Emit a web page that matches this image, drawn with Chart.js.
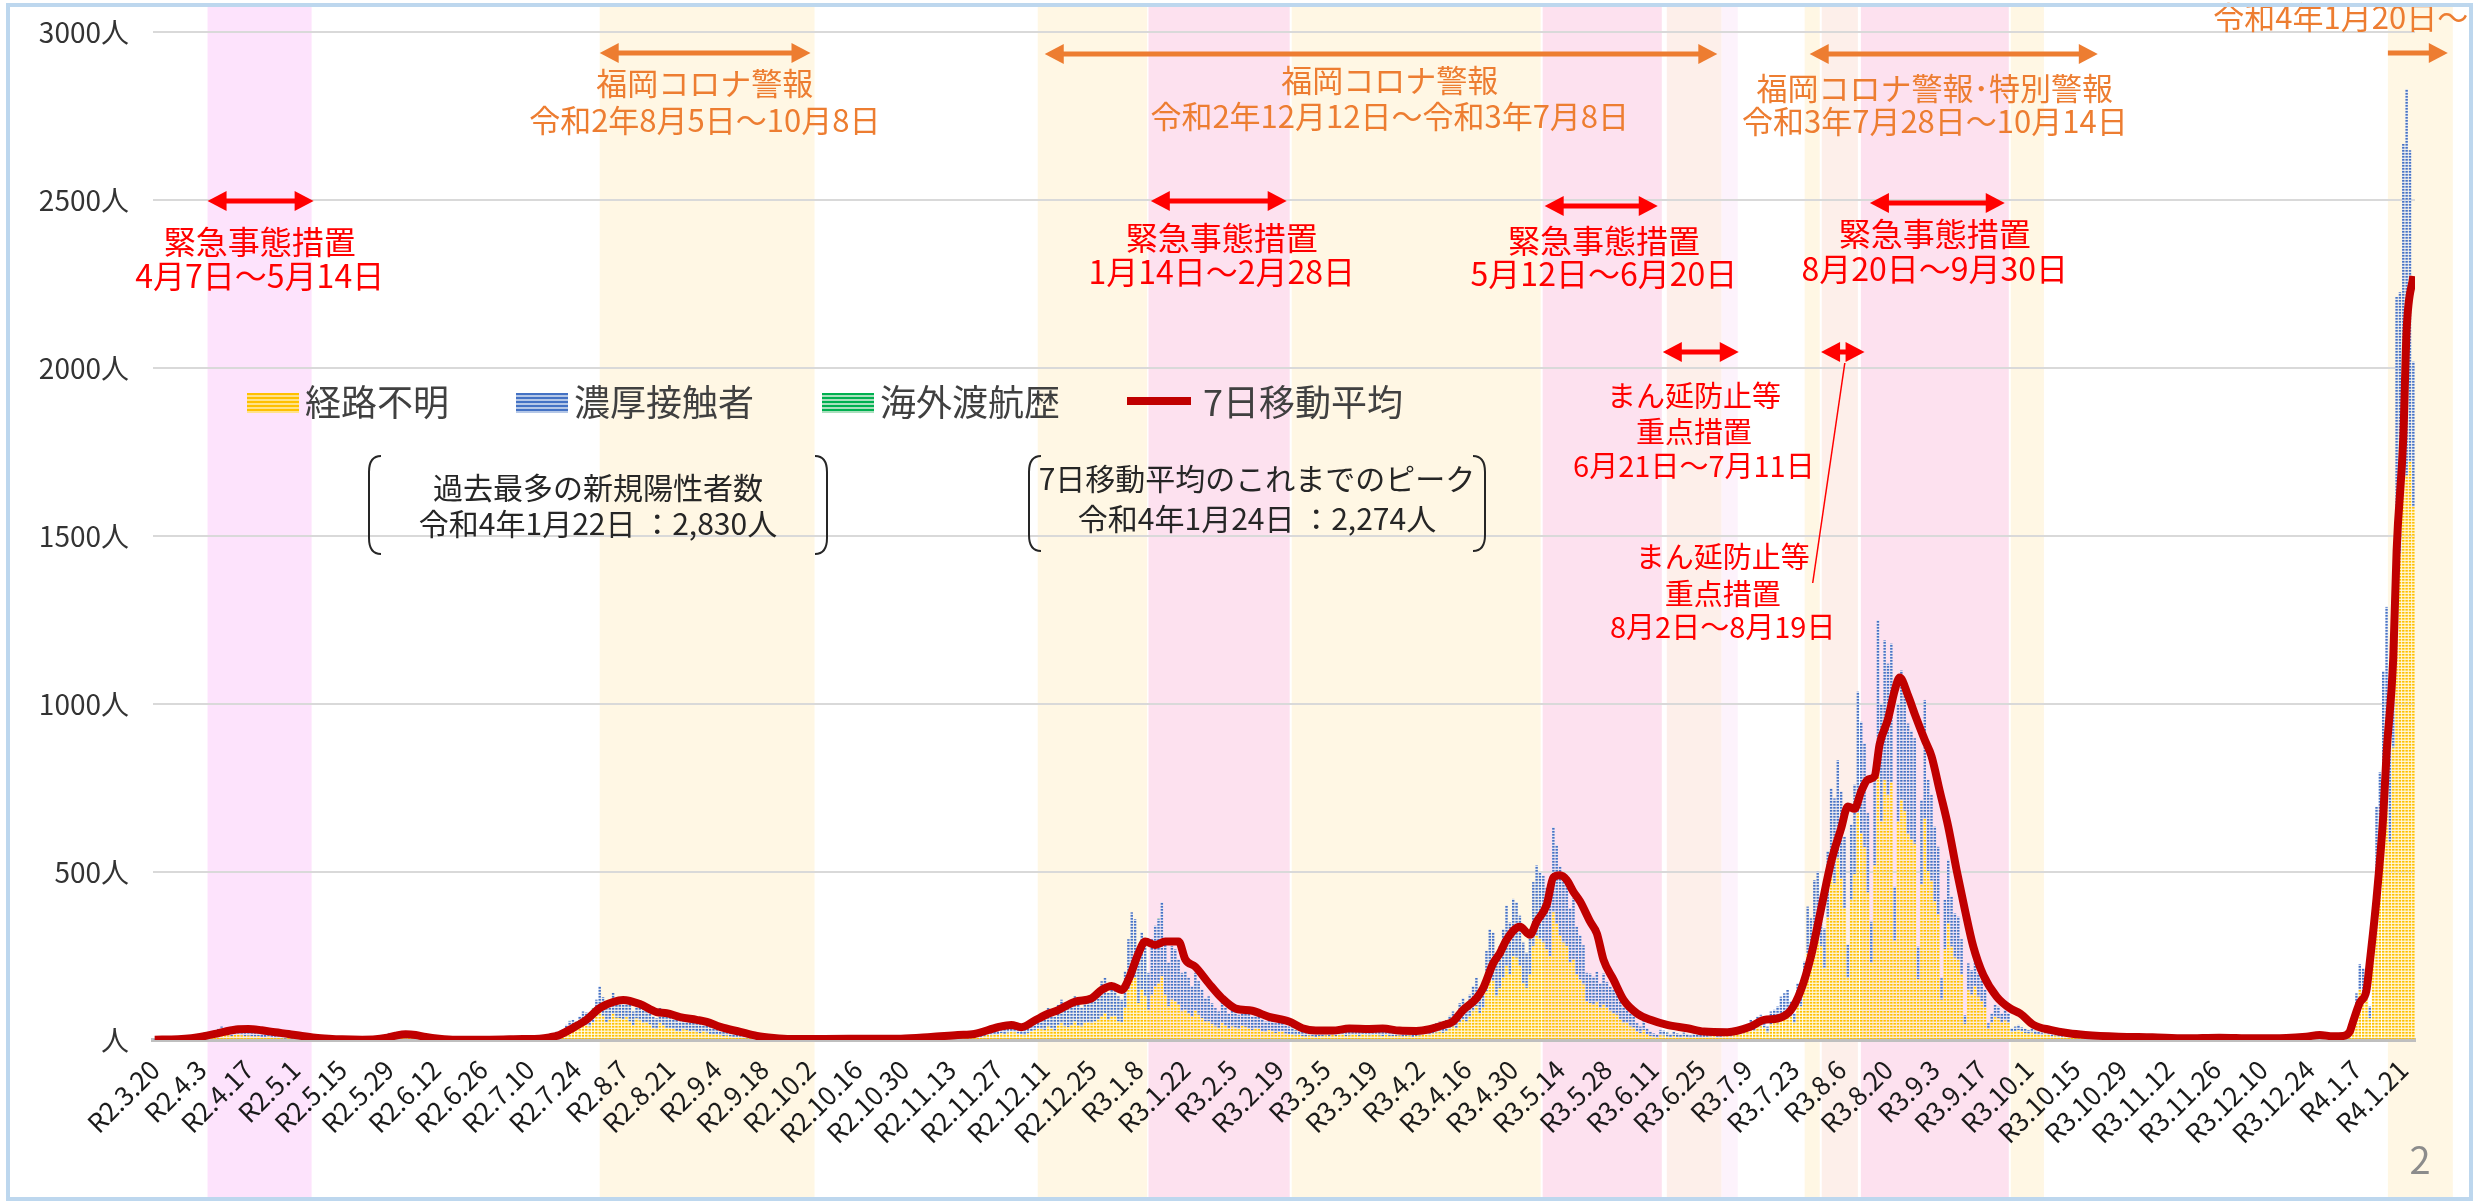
<!DOCTYPE html>
<html lang="ja">
<head>
<meta charset="UTF-8">
<title>新規陽性者数の推移</title>
<style>
  html, body { margin: 0; padding: 0; background: #fff; }
  #chartBox { width: 2483px; height: 1203px; }
</style>
</head>
<body>
<div id="chartBox"><canvas id="myChart" width="2483" height="1203"></canvas></div>
<script src="https://cdn.jsdelivr.net/npm/chart.js@4.4.1/dist/chart.umd.min.js"></script>
<script>
// day 0 = R2.3.20, one value per day, rows of 14 days
const tickLabels = ['R2.3.20','R2.4.3','R2.4.17','R2.5.1','R2.5.15','R2.5.29','R2.6.12','R2.6.26','R2.7.10','R2.7.24',
  'R2.8.7','R2.8.21','R2.9.4','R2.9.18','R2.10.2','R2.10.16','R2.10.30','R2.11.13','R2.11.27','R2.12.11','R2.12.25',
  'R3.1.8','R3.1.22','R3.2.5','R3.2.19','R3.3.5','R3.3.19','R3.4.2','R3.4.16','R3.4.30','R3.5.14','R3.5.28','R3.6.11',
  'R3.6.25','R3.7.9','R3.7.23','R3.8.6','R3.8.20','R3.9.3','R3.9.17','R3.10.1','R3.10.15','R3.10.29','R3.11.12',
  'R3.11.26','R3.12.10','R3.12.24','R4.1.7','R4.1.21'];

// 経路不明
const unknownCases = [
  0,1,0,0,1,1,2,1,2,3,4,5,6,7,
  9,10,12,8,13,16,19,17,14,12,15,18,14,12,
  13,11,10,12,9,8,11,7,6,8,5,4,6,4,
  5,4,3,4,2,2,3,1,1,2,0,1,0,0,
  0,0,0,0,0,0,0,0,0,1,2,3,5,6,
  8,6,7,9,7,5,7,5,3,2,2,1,1,1,
  0,0,1,1,0,0,0,0,0,0,1,0,0,0,
  1,1,1,0,1,2,1,1,2,1,2,1,1,2,
  2,1,3,2,3,5,7,10,13,9,16,23,28,31,
  30,40,48,45,40,52,70,90,72,52,60,78,66,65,
  62,68,55,44,64,58,50,52,46,36,32,50,44,36,
  36,33,27,25,32,30,26,28,23,21,27,22,18,17,
  16,14,12,13,10,9,7,8,6,5,6,4,3,4,
  3,2,2,2,2,1,1,1,2,1,1,1,1,2,
  1,2,2,1,3,2,2,1,3,2,2,3,2,2,
  3,2,1,3,2,3,2,2,4,3,1,2,3,3,
  4,3,2,4,5,4,6,5,4,6,6,5,7,8,
  9,7,6,10,8,7,11,9,12,8,12,15,14,17,
  17,20,18,22,25,23,19,17,14,21,26,30,34,32,
  30,40,35,28,45,50,40,38,45,55,42,40,50,52,
  50,55,62,70,80,60,70,72,55,52,95,150,200,185,
  110,150,130,90,135,160,170,190,135,100,120,115,105,85,
  90,80,70,88,75,65,55,55,48,40,36,50,42,34,
  40,37,32,42,39,34,30,36,33,26,23,30,27,21,
  24,26,19,17,16,13,15,12,10,13,11,9,12,11,
  13,11,15,12,14,16,11,13,16,15,12,17,14,13,
  15,16,13,11,15,12,11,12,13,10,12,13,9,12,
  13,15,17,14,19,22,25,21,27,33,40,36,52,60,
  55,70,85,100,80,95,145,180,175,130,155,185,220,195,
  250,245,220,170,155,195,280,310,300,290,270,250,380,345,
  310,290,280,230,240,195,180,165,115,110,105,112,95,105,
  95,85,80,75,62,50,50,40,37,25,20,30,17,12,
  10,7,14,13,10,8,12,9,7,10,8,6,9,8,
  7,9,8,10,12,7,9,11,13,10,14,17,19,22,
  25,33,28,38,41,37,22,47,50,56,75,82,90,70,
  50,108,100,150,258,235,310,325,280,215,365,487,467,540,
  480,393,184,416,494,675,615,574,439,229,520,812,650,773,
  728,767,296,650,715,682,612,598,584,181,464,658,503,474,
  413,374,120,271,348,278,245,239,195,48,148,135,161,129,
  116,97,33,51,68,64,51,58,51,23,26,29,25,21,
  19,22,18,16,14,19,15,11,13,10,9,12,8,9,
  8,7,6,7,6,5,7,6,4,6,5,4,6,4,
  5,4,3,4,2,4,3,2,4,2,3,4,2,3,
  2,4,2,3,1,2,2,3,4,1,2,2,3,2,
  3,4,2,4,2,3,2,4,3,2,2,1,3,2,
  1,2,2,3,4,2,2,3,1,2,4,5,6,7,
  11,9,12,10,8,7,5,6,4,5,8,13,25,50,
  90,150,140,140,65,260,450,520,715,840,590,870,1440,1450,
  1730,1680,1720,1586];

// 濃厚接触者
const contactCases = [
  1,1,1,0,2,1,2,2,3,3,4,5,6,7,
  11,12,14,9,15,18,21,19,17,13,17,20,16,15,
  16,14,12,15,12,10,13,10,8,11,7,6,7,5,
  6,4,3,5,3,2,3,2,1,2,1,1,1,0,
  0,1,0,0,0,0,1,0,0,1,2,5,7,8,
  13,10,12,13,11,9,10,7,5,4,3,2,1,1,
  1,0,0,1,0,1,0,0,1,0,1,1,0,1,
  0,1,2,1,1,2,2,1,3,2,2,1,2,3,
  2,2,3,3,3,5,7,10,13,9,16,22,28,29,
  25,30,37,37,32,40,50,70,56,43,50,62,54,53,
  53,57,50,41,56,52,45,48,44,34,33,45,41,34,
  42,39,33,30,38,35,32,34,29,27,33,28,24,21,
  24,21,18,19,16,13,11,12,9,7,8,6,5,5,
  4,4,3,2,3,2,1,2,2,1,2,1,2,2,
  2,3,2,1,3,2,3,2,3,2,3,4,2,3,
  3,2,2,4,3,3,2,3,4,3,2,3,4,3,
  4,4,3,5,5,4,6,6,5,8,7,5,8,8,
  9,7,6,10,9,8,11,10,12,8,13,15,14,17,
  18,22,20,23,27,25,21,19,16,23,29,32,36,34,
  45,55,53,42,60,70,58,54,65,75,63,56,68,73,
  70,80,88,105,105,80,95,98,75,68,110,150,180,175,
  140,170,160,110,165,180,190,220,165,130,160,155,135,115,
  115,105,90,112,100,85,70,75,62,55,49,65,56,44,
  55,51,43,58,53,46,40,49,45,36,32,42,38,29,
  34,36,26,23,22,17,20,16,14,17,15,13,16,14,
  17,14,20,16,18,22,15,17,20,19,16,23,19,17,
  20,22,17,15,19,17,14,16,18,14,15,17,13,17,
  17,19,21,19,23,28,30,27,33,39,45,42,58,65,
  45,65,75,85,70,80,120,150,145,110,125,145,180,155,
  170,165,150,120,105,135,190,210,200,200,185,170,254,235,
  206,206,211,162,182,142,132,117,85,88,83,91,74,93,
  78,74,70,69,58,49,49,39,37,25,20,30,18,13,
  10,8,16,15,12,10,13,11,9,12,10,8,11,9,
  8,11,10,12,13,9,11,13,15,12,16,18,21,23,
  20,27,24,32,34,31,18,38,40,44,54,57,59,45,
  29,61,59,83,139,127,166,176,152,117,195,262,252,293,
  259,212,99,224,266,362,332,309,236,123,280,438,350,417,
  392,413,160,350,385,368,330,322,314,97,250,354,271,255,
  222,201,64,146,188,149,132,128,105,26,80,73,87,69,
  63,52,17,28,36,35,28,31,28,12,14,16,13,12,
  11,13,10,9,8,11,9,7,7,6,6,7,4,5,
  5,4,3,5,4,3,4,3,3,4,3,2,3,3,
  3,2,2,3,2,2,2,1,2,2,2,3,1,2,
  2,2,1,2,1,2,1,2,2,1,2,1,2,2,
  2,3,2,2,1,2,2,2,2,1,2,1,2,1,
  1,2,1,2,2,2,1,2,1,2,2,3,4,5,
  7,6,8,6,6,5,3,4,2,4,5,9,16,29,
  49,76,74,74,35,142,244,277,383,449,310,472,771,776,
  937,1150,928,433];

// 海外渡航歴 (only the few days that have any)
const overseasDays = [2, 6, 9, 11, 15, 19, 124, 131, 236, 300, 452, 500];
const overseasCases = [1, 2, 1, 3, 1, 1, 1, 2, 1, 1, 1, 2];

// 7日移動平均
const avgDays = [
  0,7,11,14,18,21,25,28,32,36,
  40,44,48,52,56,62,66,69,72,75,
  78,81,85,90,100,110,115,118,121,125,
  129,133,137,140,145,150,153,157,162,165,
  169,175,180,185,190,200,215,223,232,240,
  245,252,256,259,263,267,270,275,280,283,
  286,289,291,294,296,299,302,306,308,311,
  315,319,323,328,333,339,343,347,352,357,
  363,367,372,377,381,385,388,391,395,397,
  400,402,404,408,411,413,416,418,420,422,
  424,426,429,431,433,436,439,443,447,452,
  458,463,470,477,481,485,489,492,495,498,
  501,504,506,508,510,512,514,515.5,518,520,
  521.5,524,526,529,531,533.5,536,538.5,541,543.5,
  546.5,550.5,554.5,557.5,561.5,566.5,572,577,587,597,
  607,617,627,637,643,647,651,654,656,657,
  659,661,662,664,666,667,669,670,672,673,
  675];
const avgValues = [
  1,2,5,10,18,25,32,33,29,23,
  18,12,7,4,2,1,2,6,13,17,
  15,9,4,1,1,3,4,8,15,36,
  60,95,113,119,107,83,80,68,60,54,
  39,24,12,6,3,3,4,4,9,15,
  18,38,45,38,58,78,89,114,124,149,
  161,149,179,258,293,283,293,293,240,218,
  169,124,94,87,69,55,35,28,28,34,
  33,34,28,27,32,44,55,89,124,154,
  228,258,298,337,313,352,402,484,490,476,
  441,412,352,317,238,179,119,79,60,45,
  35,25,23,40,60,64,89,149,250,390,
  530,630,695,688,740,775,785,880,955,1040,
  1079,1025,970,893,845,740,635,506,387,278,
  193,129,94,79,45,30,20,15,10,8,
  5,7,5,6,10,15,11,12,25,55,
  111,148,233,421,665,853,1135,1455,1793,2113,
  2274];

// shaded periods, in days
const periodBands = [
  {from: 15.8, to: 46.9, color: '#fde3fc'},
  {from: 133.0, to: 197.2, color: '#fff7e4'},
  {from: 263.9, to: 296.6, color: '#fff7e4'},
  {from: 297.0, to: 339.2, color: '#fde1ef'},
  {from: 339.8, to: 414.2, color: '#fff7e4'},
  {from: 414.8, to: 450.4, color: '#fde1ef'},
  {from: 451.9, to: 468.3, color: '#fdefea'},
  {from: 468.3, to: 473.1, color: '#fdf3fc'},
  {from: 493.1, to: 497.6, color: '#fff7e4'},
  {from: 498.2, to: 509.0, color: '#fdefea'},
  {from: 509.9, to: 554.1, color: '#fde1ef'},
  {from: 554.7, to: 564.6, color: '#fff7e4'},
  {from: 667.4, to: 686.8, color: '#fff7e4'}
];

const RED = '#ff0000', ORANGE = '#ed7d31';
const FONT = '"Noto Sans CJK JP", "Noto Sans", sans-serif';

const arrows = [
  {from: 15.8, to: 47.5, y: 201, color: RED},
  {from: 297.7, to: 338.3, y: 201, color: RED},
  {from: 415.4, to: 449.2, y: 206, color: RED},
  {from: 512.6, to: 552.9, y: 203, color: RED},
  {from: 450.7, to: 473.4, y: 352, color: RED},
  {from: 498.0, to: 511.0, y: 352, color: RED},
  {from: 133.0, to: 196.0, y: 53, color: ORANGE},
  {from: 266.0, to: 467.0, y: 54, color: ORANGE},
  {from: 494.6, to: 580.7, y: 54, color: ORANGE},
  {from: 667.4, to: 685.3, y: 53, color: ORANGE, oneWay: true}
];

const notes = [
  {day: 31.4, lines: ['緊急事態措置', '4月7日～5月14日'], ys: [242, 276], color: RED, size: 32},
  {day: 318.9, lines: ['緊急事態措置', '1月14日～2月28日'], ys: [238, 272], color: RED, size: 32},
  {day: 433.1, lines: ['緊急事態措置', '5月12日～6月20日'], ys: [241, 274], color: RED, size: 32},
  {day: 532.0, lines: ['緊急事態措置', '8月20日～9月30日'], ys: [234, 269], color: RED, size: 32},
  {day: 460.0, lines: ['まん延防止等', '重点措置', '6月21日～7月11日'], ys: [396, 432, 466], color: RED, size: 29},
  {day: 468.6, lines: ['まん延防止等', '重点措置', '8月2日～8月19日'], ys: [557, 594, 627], color: RED, size: 29},
  {day: 164.4, lines: ['福岡コロナ警報', '令和2年8月5日～10月8日'], ys: [83, 120], color: ORANGE, size: 31},
  {day: 369.1, lines: ['福岡コロナ警報', '令和2年12月12日～令和3年7月8日'], ys: [80, 116], color: ORANGE, size: 31},
  {day: 532.0, lines: ['福岡コロナ警報･特別警報', '令和3年7月28日～10月14日'], ys: [88, 121], color: ORANGE, size: 31},
  {day: 653.3, lines: ['令和4年1月20日～'], ys: [17], color: ORANGE, size: 31}
];

const infoBoxes = [
  {left: 369, right: 827, top: 456, bottom: 554, lines: ['過去最多の新規陽性者数', '令和4年1月22日 ：2,830人'], ys: [488, 524]},
  {left: 1029, right: 1485, top: 456, bottom: 551, lines: ['7日移動平均のこれまでのピーク', '令和4年1月24日 ：2,274人'], ys: [479, 519]}
];

function stripes(c1, c2, c3) {
  const t = document.createElement('canvas');
  t.width = 4; t.height = 3;
  const g = t.getContext('2d');
  g.fillStyle = c1; g.fillRect(0, 0, 4, 1);
  g.fillStyle = c2; g.fillRect(0, 1, 4, 1);
  g.fillStyle = c3; g.fillRect(0, 2, 4, 1);
  return g.createPattern(t, 'repeat');
}

const overseasDaily = unknownCases.map(() => 0);
overseasDays.forEach((d, i) => { overseasDaily[d] = overseasCases[i]; });

function byDay(arr) { return arr.map((v, d) => ({x: d, y: v})); }

function drawArrow(ctx, x1, x2, y, color, oneWay) {
  const head = 19, half = 10;
  ctx.strokeStyle = color; ctx.fillStyle = color; ctx.lineWidth = 5;
  ctx.beginPath();
  ctx.moveTo(oneWay ? x1 : x1 + head - 2, y);
  ctx.lineTo(x2 - head + 2, y);
  ctx.stroke();
  ctx.beginPath();
  ctx.moveTo(x2, y); ctx.lineTo(x2 - head, y - half); ctx.lineTo(x2 - head, y + half); ctx.closePath();
  ctx.fill();
  if (!oneWay) {
    ctx.beginPath();
    ctx.moveTo(x1, y); ctx.lineTo(x1 + head, y - half); ctx.lineTo(x1 + head, y + half); ctx.closePath();
    ctx.fill();
  }
}

function drawBracket(ctx, x, top, bottom, dir) {
  const h = 12 * dir;
  ctx.beginPath();
  ctx.moveTo(x + h, top);
  ctx.quadraticCurveTo(x, top, x, top + 16);
  ctx.lineTo(x, bottom - 16);
  ctx.quadraticCurveTo(x, bottom, x + h, bottom);
  ctx.stroke();
}

const bandPlugin = {
  id: 'bands',
  beforeDraw(chart) {
    const {ctx, scales: {x}} = chart;
    ctx.save();
    periodBands.forEach(b => {
      const x1 = x.getPixelForValue(b.from), x2 = x.getPixelForValue(b.to);
      ctx.fillStyle = b.color;
      ctx.fillRect(x1, 7, x2 - x1, 1191);
    });
    ctx.restore();
  }
};

const notesPlugin = {
  id: 'notes',
  afterDraw(chart) {
    const {ctx, scales: {x}} = chart;
    ctx.save();
    arrows.forEach(a => drawArrow(ctx, x.getPixelForValue(a.from), x.getPixelForValue(a.to), a.y, a.color, a.oneWay));

    // leader line for the second まん延防止 period
    ctx.strokeStyle = RED; ctx.lineWidth = 1.5;
    ctx.beginPath();
    ctx.moveTo(x.getPixelForValue(505.1), 363);
    ctx.lineTo(x.getPixelForValue(495.5), 583);
    ctx.stroke();

    ctx.textAlign = 'center'; ctx.textBaseline = 'middle';
    notes.forEach(n => {
      ctx.fillStyle = n.color;
      ctx.font = n.size + 'px ' + FONT;
      n.lines.forEach((t, i) => ctx.fillText(t, x.getPixelForValue(n.day), n.ys[i]));
    });

    // info boxes
    ctx.strokeStyle = '#262626'; ctx.lineWidth = 2;
    ctx.fillStyle = '#262626'; ctx.font = '30px ' + FONT;
    infoBoxes.forEach(b => {
      drawBracket(ctx, b.left, b.top, b.bottom, 1);
      drawBracket(ctx, b.right, b.top, b.bottom, -1);
      b.lines.forEach((t, i) => ctx.fillText(t, (b.left + b.right) / 2, b.ys[i]));
    });

    // legend
    const ds = chart.data.datasets;
    const swatch = [
      {x: 247, c: ['#ffc000', '#ffe28a']},
      {x: 516, c: ['#4472c4', '#b4c7e7']},
      {x: 822, c: ['#00b050', '#a9e0bd']}
    ];
    ctx.textAlign = 'left';
    ctx.font = '36px ' + FONT;
    swatch.forEach((s, i) => {
      for (let k = 0; k < 20; k += 4) {
        ctx.fillStyle = s.c[0]; ctx.fillRect(s.x, 393 + k, 52, 2);
        ctx.fillStyle = s.c[1]; ctx.fillRect(s.x, 395 + k, 52, 2);
      }
      ctx.fillStyle = '#404040';
      ctx.fillText(ds[i].label, s.x + 58, 402);
    });
    ctx.strokeStyle = '#c00000'; ctx.lineWidth = 8;
    ctx.beginPath(); ctx.moveTo(1127, 401); ctx.lineTo(1191, 401); ctx.stroke();
    ctx.fillStyle = '#404040';
    ctx.fillText(ds[3].label, 1203, 402);

    // page number and frame
    ctx.textAlign = 'center';
    ctx.fillStyle = '#8c8c8c'; ctx.font = '38px ' + FONT;
    ctx.fillText('2', 2420, 1160);
    ctx.strokeStyle = '#bdd7ee'; ctx.lineWidth = 4;
    ctx.strokeRect(8, 5, 2463, 1194);
    ctx.restore();
  }
};

const carte = document.getElementById('myChart');
const graph = new Chart(carte, {
  type: 'bar',
  data: {
    datasets: [
      {label: '経路不明', data: byDay(unknownCases), backgroundColor: stripes('#ffc000', '#ffd54a', '#fff3c4'),
        stack: 'cases', order: 1, barPercentage: 0.72, categoryPercentage: 1},
      {label: '濃厚接触者', data: byDay(contactCases), backgroundColor: stripes('#4472c4', '#7a97d4', '#dbe4f5'),
        stack: 'cases', order: 1, barPercentage: 0.72, categoryPercentage: 1},
      {label: '海外渡航歴', data: byDay(overseasDaily), backgroundColor: stripes('#00b050', '#5ccb8a', '#d5f2e0'),
        stack: 'cases', order: 1, barPercentage: 0.72, categoryPercentage: 1},
      {type: 'line', label: '7日移動平均', data: avgDays.map((d, i) => ({x: d, y: avgValues[i]})),
        borderColor: '#c00000', borderWidth: 8, pointRadius: 0, cubicInterpolationMode: 'monotone',
        stack: 'avg', order: 0, fill: false}
    ]
  },
  options: {
    responsive: false,
    animation: false,
    devicePixelRatio: 1,
    layout: {padding: {top: 32, right: 68, left: 0, bottom: 0}},
    plugins: {legend: {display: false}, tooltip: {enabled: false}},
    scales: {
      x: {
        type: 'linear', stacked: true, min: -0.5, max: 675.5, offset: false,
        grid: {display: false, drawTicks: false, offset: false},
        border: {display: true, color: '#bfbfbf', width: 4},
        afterBuildTicks: s => { s.ticks = tickLabels.map((l, i) => ({value: i * 14})); },
        afterFit: s => { s.height = 163; s.paddingLeft = 0; s.paddingRight = 0; },
        ticks: {
          autoSkip: false, maxRotation: 45, minRotation: 45, padding: 14, color: '#1a1a1a',
          font: {family: FONT, size: 26},
          callback: (v, i) => tickLabels[i]
        }
      },
      y: {
        stacked: true, min: 0, max: 3000,
        afterFit: s => { s.width = 153; s.paddingTop = 0; s.paddingBottom = 0; },
        grid: {color: '#d9d9d9', lineWidth: 2, drawTicks: false},
        border: {display: false},
        ticks: {
          stepSize: 500, padding: 24, color: '#333333',
          font: {family: FONT, size: 28},
          callback: v => v === 0 ? '人' : v + '人'
        }
      }
    }
  },
  plugins: [bandPlugin, notesPlugin]
});
</script>
</body>
</html>
